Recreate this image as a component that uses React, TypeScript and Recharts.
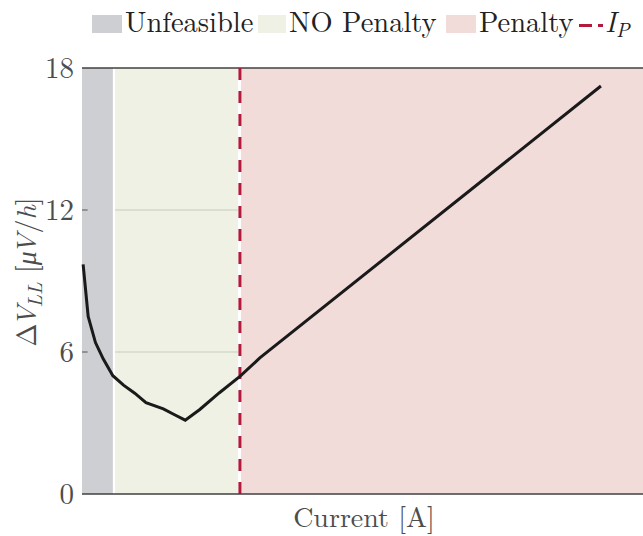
import React from 'react'
import {
  LineChart,
  Line,
  XAxis,
  YAxis,
  ReferenceArea,
  ReferenceLine,
} from 'recharts'

// Current axis in arbitrary units (0..100), no tick labels on the figure
const currents = [0.2, 1.1, 2.4, 3.8, 5.5, 7.4, 9.4, 11.4, 14.5, 16.5, 18.4, 21.0, 24.5, 28.2, 31.7, 92.5]
const deltaV = [9.7, 7.5, 6.4, 5.7, 5.0, 4.6, 4.26, 3.86, 3.6, 3.35, 3.12, 3.57, 4.28, 4.98, 5.75, 17.24]
const yTicks = [0, 6, 12, 18]

const unfeasible = [0, 5.5]
const noPenalty = [5.9, 27.8]
const penalty = [28.35, 100]
const iP = 28.15

const data = currents.map((x, i) => ({ x, v: deltaV[i] }))

const FONT = '"Latin Modern Roman", "Liberation Serif", serif'
const TEXT = '#4d4d4d'
const GRAY = '#cdcfd2'
const GREEN = '#eef1e4'
const PINK = '#f1dcda'
const RED = '#b3193b'

const YLabel = () => (
  <text
    transform="translate(36, 272) rotate(-90)"
    textAnchor="middle"
    fontFamily={FONT}
    fontSize={28}
    fill={TEXT}
  >
    <tspan>Δ</tspan>
    <tspan fontStyle="italic" dx={-3}>V</tspan>
    <tspan fontStyle="italic" fontSize={20} dy={6} dx={-2}>LL</tspan>
    <tspan dy={-6}> [</tspan>
    <tspan fontStyle="italic">μ</tspan>
    <tspan fontStyle="italic" dx={-3}>V</tspan>
    <tspan>/</tspan>
    <tspan fontStyle="italic">h</tspan>
    <tspan>]</tspan>
  </text>
)

const XLabel = () => (
  <text x={364} y={527} textAnchor="middle" fontFamily={FONT} fontSize={28} fill={TEXT}>
    Current [A]
  </text>
)

const legendText: React.CSSProperties = {
  position: 'absolute',
  top: 2,
  fontFamily: FONT,
  fontSize: 28.5,
  color: '#222',
  whiteSpace: 'nowrap',
  lineHeight: '36px',
}

function TopLegend() {
  const box = (left: number, width: number, color: string) => (
    <div style={{ position: 'absolute', left, top: 15, width, height: 18, background: color }} />
  )
  return (
    <>
      {box(92, 30, GRAY)}
      <span style={{ ...legendText, left: 125 }}>Unfeasible</span>
      {box(258, 28, GREEN)}
      <span style={{ ...legendText, left: 289 }}>NO Penalty</span>
      {box(446, 30, PINK)}
      <span style={{ ...legendText, left: 479 }}>Penalty</span>
      <div style={{ position: 'absolute', left: 579, top: 24, width: 13, height: 3, background: RED }} />
      <div style={{ position: 'absolute', left: 598, top: 24, width: 5, height: 3, background: RED }} />
      <span style={{ ...legendText, left: 605 }}>
        <i>I</i>
        <i style={{ fontSize: 20, position: 'relative', top: 5 }}>P</i>
      </span>
    </>
  )
}

export default function App() {
  return (
    <div style={{ position: 'absolute', left: 0, top: 0, width: 643, height: 536, background: '#fff' }}>
      <TopLegend />
      <LineChart width={643} height={536} data={data} margin={{ top: 68, right: 0, bottom: 0, left: 0 }}>
        <XAxis
          type="number"
          dataKey="x"
          domain={[0, 100]}
          height={42}
          tick={false}
          tickLine={false}
          axisLine={{ stroke: '#404040', strokeWidth: 1.5 }}
          label={<XLabel />}
        />
        <YAxis
          type="number"
          domain={[0, 18]}
          ticks={yTicks}
          width={82}
          axisLine={false}
          tickLine={false}
          tick={{ fontFamily: FONT, fontSize: 29, fill: TEXT }}
          label={<YLabel />}
        />
        <ReferenceArea x1={unfeasible[0]} x2={unfeasible[1]} y1={0} y2={18} fill={GRAY} fillOpacity={1} stroke="none" />
        <ReferenceArea x1={noPenalty[0]} x2={noPenalty[1]} y1={0} y2={18} fill={GREEN} fillOpacity={1} stroke="none" />
        <ReferenceArea x1={penalty[0]} x2={penalty[1]} y1={0} y2={18} fill={PINK} fillOpacity={1} stroke="none" />
        {[6, 12].map((t) => (
          <ReferenceLine
            key={`g${t}`}
            segment={[{ x: noPenalty[0], y: t }, { x: noPenalty[1], y: t }]}
            stroke="#d4d9c8"
            strokeWidth={1.5}
          />
        ))}
        {[6, 12].map((t) => (
          <ReferenceLine
            key={`t${t}`}
            segment={[{ x: 0, y: t }, { x: 1, y: t }]}
            stroke="#555"
            strokeWidth={1}
          />
        ))}
        <ReferenceLine y={18} stroke="#404040" strokeWidth={1.5} />
        <ReferenceLine x={iP} stroke={RED} strokeWidth={3} strokeDasharray="12 11" />
        <Line
          type="linear"
          dataKey="v"
          stroke="#1a1a1a"
          strokeWidth={3}
          dot={false}
          isAnimationActive={false}
        />
      </LineChart>
    </div>
  )
}
